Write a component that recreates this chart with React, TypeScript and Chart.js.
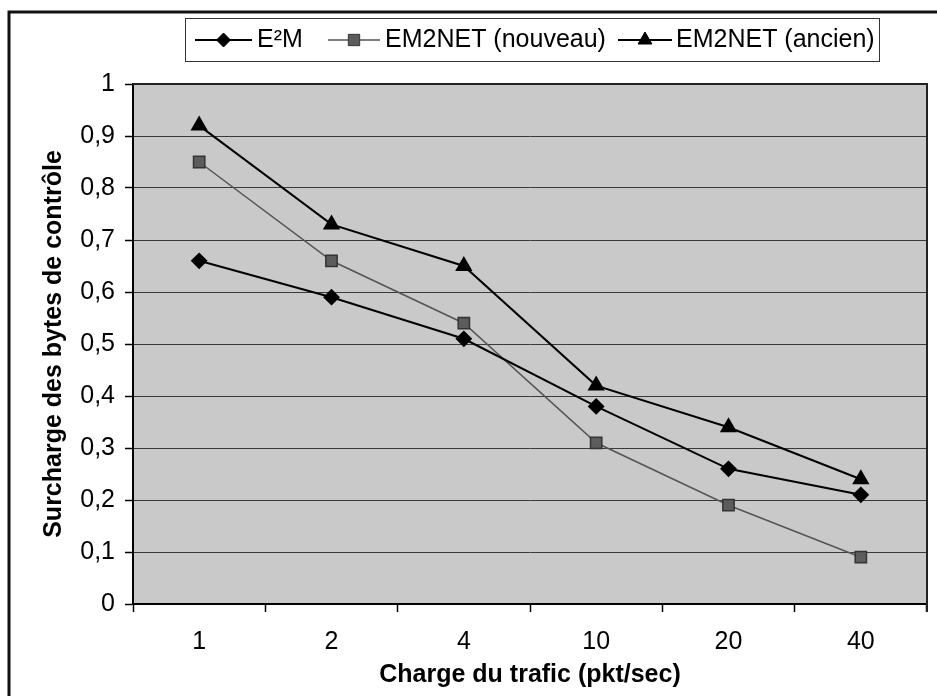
import React, { useEffect, useRef } from 'react';
import { Chart, registerables } from 'chart.js';

Chart.register(...registerables);

// ---- data ----
const categories = ['1', '2', '4', '10', '20', '40'];
const seriesLabels = ['E²M', 'EM2NET (nouveau)', 'EM2NET (ancien)'];
const e2mValues = [0.66, 0.59, 0.51, 0.38, 0.26, 0.21];
const nouveauValues = [0.85, 0.66, 0.54, 0.31, 0.19, 0.09];
const ancienValues = [0.92, 0.73, 0.65, 0.42, 0.34, 0.24];
const yMin = 0;
const yMax = 1;
const yStep = 0.1;
const xTitle = 'Charge du trafic (pkt/sec)';
const yTitle = 'Surcharge des bytes de contrôle';

const FONT = "'Liberation Sans', Arial, Helvetica, sans-serif";

function drawMarker(ctx: CanvasRenderingContext2D, style: string, x: number, y: number, r: number, fill: string, stroke: string) {
  ctx.save();
  ctx.beginPath();
  if (style === 'rectRot') {
    ctx.moveTo(x - r, y);
    ctx.lineTo(x, y - r);
    ctx.lineTo(x + r, y);
    ctx.lineTo(x, y + r);
    ctx.closePath();
  } else if (style === 'rect') {
    const s = Math.SQRT1_2 * r;
    ctx.rect(x - s, y - s, 2 * s, 2 * s);
  } else if (style === 'triangle') {
    const a = Math.PI * 2 / 3;
    ctx.moveTo(x, y - r);
    ctx.lineTo(x + Math.sin(a) * r, y - Math.cos(a) * r);
    ctx.lineTo(x + Math.sin(2 * a) * r, y - Math.cos(2 * a) * r);
    ctx.closePath();
  }
  ctx.fillStyle = fill;
  ctx.fill();
  ctx.lineWidth = 1;
  ctx.strokeStyle = stroke;
  ctx.stroke();
  ctx.restore();
}

const backgroundPlugin = {
  id: 'bgFrame',
  beforeDraw(chart: any) {
    const { ctx, chartArea } = chart;
    ctx.save();
    ctx.fillStyle = '#ffffff';
    ctx.fillRect(0, 0, chart.width, chart.height);
    // outer frame (left + top visible)
    ctx.strokeStyle = '#111';
    ctx.lineWidth = 3;
    ctx.beginPath();
    ctx.moveTo(9, chart.height + 5);
    ctx.lineTo(9, 12);
    ctx.lineTo(chart.width + 5, 12);
    ctx.stroke();
    // plot background
    ctx.fillStyle = '#c9c9c9';
    ctx.fillRect(chartArea.left, chartArea.top, chartArea.right - chartArea.left, chartArea.bottom - chartArea.top);
    ctx.restore();
  },
  afterDraw(chart: any) {
    const { ctx, chartArea } = chart;
    ctx.save();
    // plot top/right border
    ctx.strokeStyle = '#222';
    ctx.lineWidth = 2;
    ctx.beginPath();
    ctx.moveTo(chartArea.left, chartArea.top);
    ctx.lineTo(chartArea.right, chartArea.top);
    ctx.lineTo(chartArea.right, chartArea.bottom + 8);
    ctx.stroke();

    // legend box
    const bx = 185.5, by = 18.5, bw = 694, bh = 43;
    ctx.fillStyle = '#fff';
    ctx.fillRect(bx, by, bw, bh);
    ctx.strokeStyle = '#333';
    ctx.lineWidth = 1;
    ctx.strokeRect(bx, by, bw, bh);
    const items = [
      { x0: 195, x1: 252, tx: 257 },
      { x0: 328, x1: 380, tx: 385 },
      { x0: 618, x1: 672, tx: 676 },
    ];
    const ly = 40;
    chart.data.datasets.forEach((ds: any, i: number) => {
      const it = items[i];
      ctx.strokeStyle = ds.borderColor;
      ctx.lineWidth = ds.borderWidth;
      ctx.beginPath();
      ctx.moveTo(it.x0, ly);
      ctx.lineTo(it.x1, ly);
      ctx.stroke();
      drawMarker(ctx, ds.pointStyle, (it.x0 + it.x1) / 2, ly, ds.pointRadius, ds.pointBackgroundColor, ds.pointBorderColor);
      ctx.fillStyle = '#000';
      ctx.font = `25px ${FONT}`;
      ctx.textBaseline = 'middle';
      ctx.textAlign = 'left';
      ctx.fillText(ds.label, it.tx, ly);
    });
    ctx.restore();
  },
};

export default function App() {
  const canvasRef = useRef<HTMLCanvasElement | null>(null);

  useEffect(() => {
    const canvas = canvasRef.current;
    if (!canvas) return;
    const chart = new Chart(canvas, {
      type: 'line',
      data: {
        labels: categories,
        datasets: [
          {
            label: seriesLabels[0],
            data: e2mValues,
            borderColor: '#000',
            borderWidth: 2,
            pointStyle: 'rectRot',
            pointRadius: 7,
            pointBackgroundColor: '#000',
            pointBorderColor: '#000',
          },
          {
            label: seriesLabels[1],
            data: nouveauValues,
            borderColor: '#555',
            borderWidth: 1.5,
            pointStyle: 'rect',
            pointRadius: 8,
            pointBackgroundColor: '#5c5c5c',
            pointBorderColor: '#333',
          },
          {
            label: seriesLabels[2],
            data: ancienValues,
            borderColor: '#000',
            borderWidth: 2,
            pointStyle: 'triangle',
            pointRadius: 8,
            pointBackgroundColor: '#000',
            pointBorderColor: '#000',
          },
        ] as any,
      },
      options: {
        responsive: false,
        animation: false,
        events: [],
        layout: { padding: { top: 84, right: 5, bottom: 0, left: 0 } },
        font: { family: FONT },
        plugins: {
          legend: { display: false },
          tooltip: { enabled: false },
        },
        scales: {
          x: {
            type: 'category',
            offset: true,
            grid: {
              offset: true,
              drawOnChartArea: false,
              tickLength: 8,
              tickColor: '#000',
              tickWidth: 1.5,
            },
            border: { display: true, color: '#000', width: 2 },
            ticks: {
              color: '#000',
              padding: 15,
              font: { family: FONT, size: 25 },
              maxRotation: 0,
            },
            title: {
              display: true,
              text: xTitle,
              color: '#000',
              font: { family: FONT, size: 25, weight: 'bold' },
              padding: { top: 0, bottom: 6 },
            },
            afterFit: (scale: any) => {
              scale.height = 92;
            },
          },
          y: {
            min: yMin,
            max: yMax,
            grid: {
              color: '#3a3a3a',
              lineWidth: 1,
              tickLength: 8,
              tickColor: '#000',
              tickWidth: 1.5,
            },
            border: { display: true, color: '#000', width: 2 },
            ticks: {
              stepSize: yStep,
              color: '#000',
              padding: 10,
              font: { family: FONT, size: 25 },
              callback: (v: any) => String(Math.round(Number(v) * 10) / 10).replace('.', ','),
            },
            title: {
              display: true,
              text: yTitle,
              color: '#000',
              font: { family: FONT, size: 25, weight: 'bold' },
              padding: { top: 39, bottom: 0 },
            },
            afterFit: (scale: any) => {
              scale.width = 133;
            },
          },
        },
      } as any,
      plugins: [backgroundPlugin],
    });
    return () => chart.destroy();
  }, []);

  return (
    <div style={{ position: 'fixed', left: 0, top: 0, width: 937, height: 696, background: '#fff' }}>
      <canvas ref={canvasRef} width={937} height={696} style={{ display: 'block', width: 937, height: 696 }} />
    </div>
  );
}
